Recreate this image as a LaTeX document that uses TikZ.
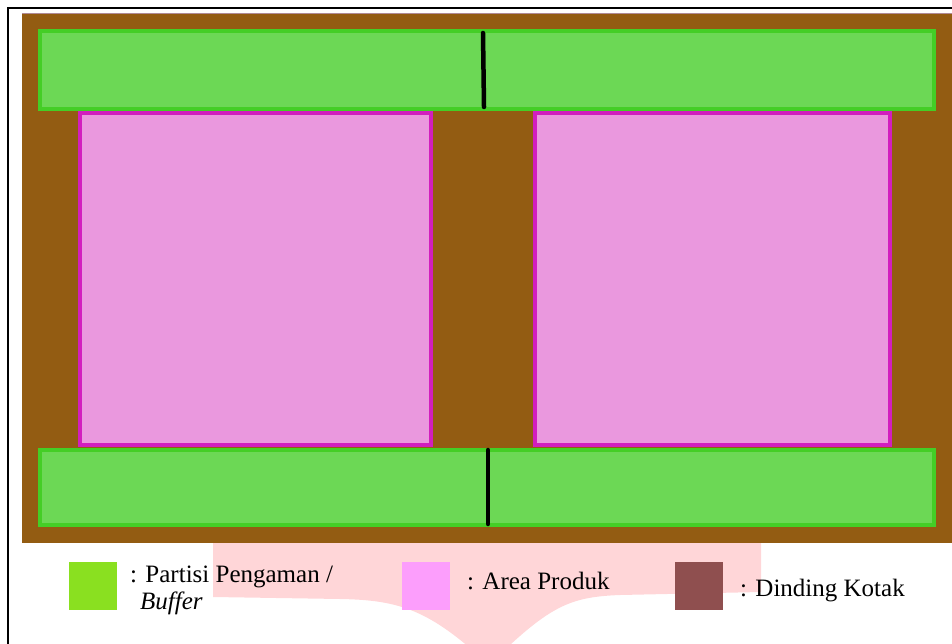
\documentclass[tikz,border=0pt]{standalone}
\usepackage{fontspec}
\setmainfont{Liberation Serif}
\usepackage{xcolor}
\usepackage{tikz}
\usetikzlibrary{positioning}

\definecolor{wallbrown}{RGB}{147,92,18}
\definecolor{wallrim}{RGB}{176,138,150}
\definecolor{bufferfill}{RGB}{108,216,85}
\definecolor{bufferline}{RGB}{68,206,38}
\definecolor{produkfill}{RGB}{234,152,222}
\definecolor{produkline}{RGB}{210,30,190}
\definecolor{keygreen}{RGB}{138,224,32}
\definecolor{keypink}{RGB}{252,158,252}
\definecolor{keybrown}{RGB}{143,79,79}
\definecolor{legendbg}{RGB}{255,214,216}

\begin{document}
\begin{tikzpicture}[x=1pt, y=-1pt,
  buffer/.style={draw=bufferline, fill=bufferfill, line width=4pt},
  produk/.style={draw=produkline, fill=produkfill, line width=4pt},
  sekat/.style={line width=4.5pt, line cap=round},
  swatch/.style={minimum size=48pt, inner sep=0pt, anchor=north west},
  lbl/.style={anchor=base west, inner sep=0pt, align=left, font=\fontsize{25}{27}\selectfont}
]
\useasboundingbox (0,0) rectangle (952,644);
\draw[line width=2pt] (8,660) -- (8,8) -- (960,8);

% legend backdrop
\fill[legendbg] (213,542) -- (761,542) -- (761,592) -- (620,595)
  .. controls (570,597) and (550,605) .. (489,665)
  .. controls (430,610) and (400,600) .. (340,599) -- (213,597) -- cycle;

% box wall
\fill[wallbrown] (22,14) rectangle (952,543);
\draw[wallrim, line width=1pt] (22,14) -- (952,14);

% buffers
\draw[buffer] (40,31) rectangle (934,109);
\draw[buffer] (40,450) rectangle (934,525);

% product areas
\draw[produk] (80,113) rectangle (431,445);
\draw[produk] (535,113) rectangle (890,445);

% partitions
\coordinate (sekatA1) at (483,33);
\coordinate (sekatA2) at (484,107);
\coordinate (sekatB1) at (488,450);
\coordinate (sekatB2) at (488,524);
\draw[sekat] (sekatA1) -- (sekatA2);
\draw[sekat] (sekatB1) -- (sekatB2);

% legend
\node[swatch, fill=keygreen] (kBuffer) at (69,562) {};
\node[swatch, fill=keypink] (kProduk) at (402,562) {};
\node[swatch, fill=keybrown] (kDinding) at (675,562) {};

\node[lbl] (tBuffer) at (130,609) {: Partisi Pengaman /\\\hspace*{10pt}\textit{Buffer}};
\node[lbl] (tProduk) at (467,589) {: Area Produk};
\node[lbl] (tDinding) at (740,596) {: Dinding Kotak};
\end{tikzpicture}
\end{document}
